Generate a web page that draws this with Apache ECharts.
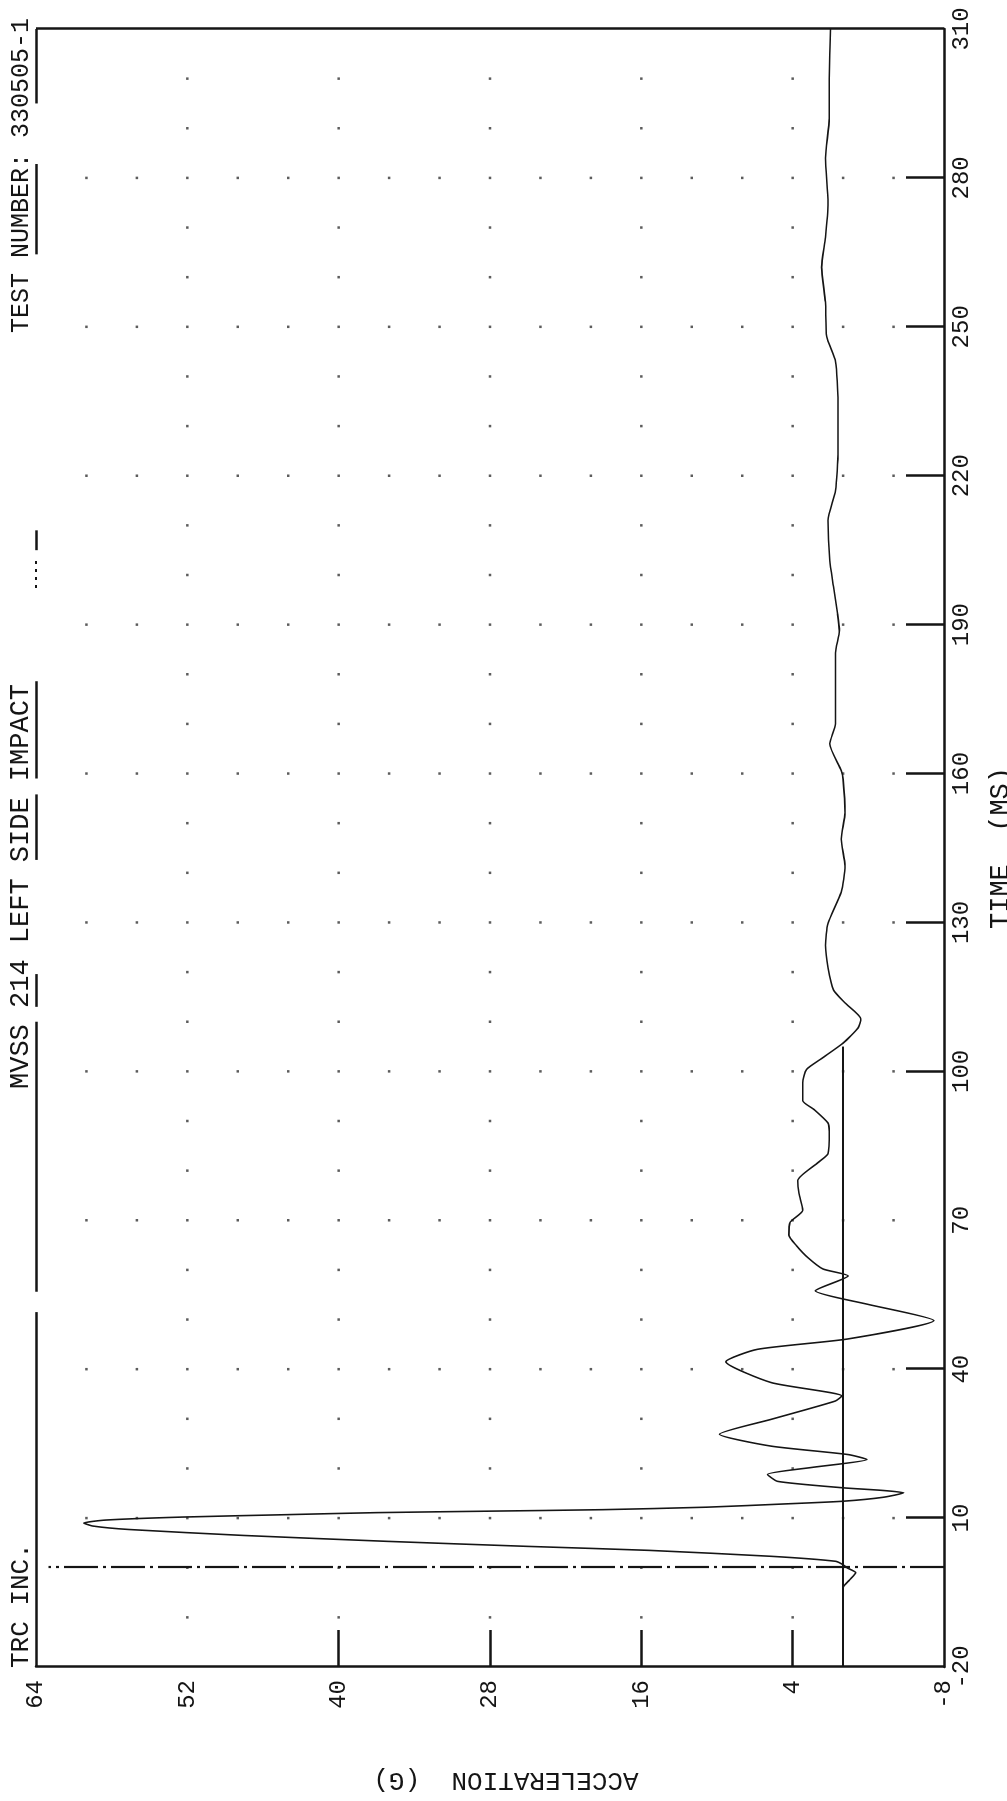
<!DOCTYPE html>
<html>
<head>
<meta charset="utf-8">
<script src="https://cdn.jsdelivr.net/npm/echarts@6/dist/echarts.min.js"></script>
<style>
  html, body { margin: 0; padding: 0; background: #fff; overflow: hidden; width: 1007px; height: 1801px; }
  /* The plot is laid out landscape and turned a quarter turn so time runs up the page */
  #chart { position: absolute; left: 0; top: 0; width: 1801px; height: 1007px;
           transform-origin: 0 0; transform: translate(0px, 1801px) rotate(-90deg); }
</style>
</head>
<body>
<div id="chart"></div>
<script>
// Sled acceleration trace, time in milliseconds, acceleration in G
const timeMs = [-20, -10, -4, -2.5, -1, 0, 0.6, 1.3, 2.3, 3.5, 4.3, 5.3, 6.5, 7.7, 8.4, 9.0, 9.6, 10.2, 10.7, 11.1,
  11.4, 11.7, 12.2, 12.9, 13.4, 14.2, 15.1, 15.6, 16.1, 17.4, 18.8, 20.2, 21.8, 22.8, 24.5, 26.9, 29.9, 33.6, 34.6, 37.3,
  41.5, 44.0, 46.1, 49.8, 53.1, 55.8, 58.8, 60.2, 62.5, 64.9, 67.0, 69.6, 72.0, 75.4, 78.0, 81.6, 83.4, 87.9, 89.6, 92.3,
  94.1, 97.7, 100.4, 102.6, 105.7, 108.8, 110.6, 113.8, 116.4, 120.9, 125.4, 129.8, 136.1, 141.4, 146.8, 152.1, 158.8, 160.6, 166, 170,
  178.9, 184.3, 188.8, 192.3, 197.7, 203, 211, 217, 225, 235, 243, 248, 255, 262, 268, 275, 284, 292, 300, 310];
const accelG = [0, 0, 0, -0.5, -1.0, -0.3, 0, 0.6, 5.7, 15.4, 25, 36, 47.5, 56.6, 59.5, 60.2, 58.5, 52.5, 44, 37,
  28, 19, 10.8, 4.2, 0, -3.2, -4.8, -3.0, 0, 5.2, 6.0, 2.5, -1.9, -0.4, 5.7, 9.8, 5.7, 0.6, 0.1, 5.7,
  9.3, 6.8, -0.4, -7.2, -1.9, 2.2, -0.4, 1.6, 2.8, 3.7, 4.3, 4.2, 3.2, 3.5, 3.6, 2.0, 1.2, 1.1, 1.2, 2.3,
  3.2, 3.2, 2.9, 1.7, 0, -1.2, -1.4, -0.15, 0.76, 1.2, 1.4, 1.2, 0.15, -0.15, 0.15, -0.15, 0, 0.15, 1.06, 0.6,
  0.6, 0.6, 0.3, 0.45, 0.76, 1.06, 1.2, 0.6, 0.4, 0.4, 0.6, 1.3, 1.4, 1.7, 1.4, 1.2, 1.4, 1.1, 1.1, 1.0];

// Axis labelling
const timeLabels = [-20, 10, 40, 70, 100, 130, 160, 190, 220, 250, 280, 310];
const timeTickMarks = [10, 40, 100, 130, 160, 190, 220, 250, 280];
const accLabels = [-8, 4, 16, 28, 40, 52, 64];
const accTickMarks = [4, 16, 28, 40];

// Pieces of the upper frame line that the plotter drew (ms); it doubles as the header underlines
const frameTopPieces = [[-20, 51.5], [55.6, 110], [113, 119.6], [142.6, 155.8], [159, 178.6], [205, 209], [264.6, 282.8], [295, 310]];

// Header texts
const headerLeft = 'TRC INC.';
const headerMid = 'MVSS 214 LEFT SIDE IMPACT';
const headerRight = 'TEST NUMBER: 330505-1';

const INK = '#151515';
const FONT = "'Liberation Mono', 'DejaVu Sans Mono', monospace";

// Plotter dot grid: every 10 ms at the major G lines, every 4 G on the 30 ms lines
const dotTimeStep = 10, dotAccStep = 4;
const tMin = timeLabels[0], tMax = timeLabels[timeLabels.length - 1];
const aMin = accLabels[0], aMax = accLabels[accLabels.length - 1];
const gridDots = [];
for (let t = tMin + dotTimeStep; t < tMax; t += dotTimeStep) {
  if (timeLabels.indexOf(t) >= 0) {
    for (let a = aMin + dotAccStep; a < aMax; a += dotAccStep) gridDots.push([t, a]);
  } else {
    accLabels.slice(1, -1).forEach(a => gridDots.push([t, a]));
  }
}

const trace = timeMs.map((t, i) => [t, accelG[i]]);

const frameStyle = { type: 'solid', width: 2.5, color: INK };
const markLines = [
  // time zero
  [{ coord: [0, aMin], lineStyle: { type: [34, 5, 3, 5], width: 2.2, color: INK } }, { coord: [0, 63] }],
  // zero G reference
  [{ coord: [tMin, 0], lineStyle: { type: 'solid', width: 2.2, color: INK } }, { coord: [105, 0] }],
  // right-hand frame at the end of the record
  [{ coord: [tMax, aMin], lineStyle: frameStyle }, { coord: [tMax, aMax] }]
];
frameTopPieces.forEach(p => markLines.push([{ coord: [p[0], aMax], lineStyle: frameStyle }, { coord: [p[1], aMax] }]));

function headerText(str, x, y, size) {
  return { type: 'text', x: x, y: y, silent: true,
    style: { text: str, font: size + 'px ' + FONT, fill: INK,
             textAlign: 'left', textVerticalAlign: 'middle', align: 'left', verticalAlign: 'middle' } };
}

const chart = echarts.init(document.getElementById('chart'), null, { width: 1801, height: 1007, renderer: 'canvas' });

chart.setOption({
  backgroundColor: '#fff',
  animation: false,
  grid: { left: 134, right: 29, top: 36, bottom: 63, show: false, containLabel: false, outerBoundsMode: 'none' },
  xAxis: {
    type: 'value', min: tMin, max: tMax,
    name: 'TIME  (MS)', nameLocation: 'middle', nameGap: 43,
    nameTextStyle: { fontFamily: FONT, fontSize: 27, color: INK, verticalAlign: 'top' },
    axisLine: { show: true, onZero: false, lineStyle: { color: INK, width: 2.5 } },
    axisTick: { show: true, inside: true, length: 38, customValues: timeTickMarks, lineStyle: { color: INK, width: 2.5 } },
    axisLabel: { customValues: timeLabels, margin: 6, fontFamily: FONT, fontSize: 24, color: INK },
    splitLine: { show: false }
  },
  yAxis: {
    type: 'value', min: aMin, max: aMax,
    name: 'ACCELERATION  (G)', nameLocation: 'middle', nameGap: 100,
    nameTextStyle: { fontFamily: FONT, fontSize: 26, color: INK, padding: [0, 32, 0, 0] },
    axisLine: { show: true, onZero: false, lineStyle: { color: INK, width: 2.5 } },
    axisTick: { show: true, inside: true, length: 37, customValues: accTickMarks, lineStyle: { color: INK, width: 2.5 } },
    axisLabel: { customValues: accLabels, margin: 13, fontFamily: FONT, fontSize: 24, color: INK },
    splitLine: { show: false }
  },
  series: [
    {
      type: 'scatter', silent: true, data: gridDots, symbol: 'rect', symbolSize: 2.5,
      itemStyle: { color: '#333' }, z: 1
    },
    {
      type: 'line', name: 'ACCELERATION', data: trace, showSymbol: false, smooth: 0.2,
      lineStyle: { color: INK, width: 1.6 }, z: 3,
      markLine: { silent: true, symbol: 'none', label: { show: false }, data: markLines }
    }
  ],
  graphic: [
    headerText(headerLeft, 133, 21, 26),
    headerText(headerMid, 712, 21, 27),
    { type: 'line', silent: true, shape: { x1: 1213, y1: 36, x2: 1240, y2: 36 }, style: { stroke: INK, lineWidth: 2, lineDash: [3, 5] } },
    headerText(headerRight, 1468, 21, 25)
  ]
});
</script>
</body>
</html>
